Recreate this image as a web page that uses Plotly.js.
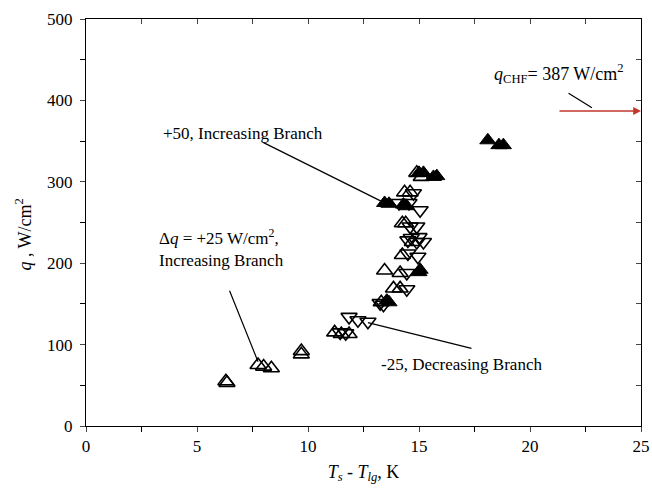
<!DOCTYPE html>
<html><head><meta charset="utf-8">
<script src="https://cdn.plot.ly/plotly-3.0.1.min.js"></script>
<style>body{margin:0;background:#fff}#c{width:652px;height:491px}</style>
</head><body><div id="c"></div>
<script>
// +25 W/cm2, increasing branch (open up-triangles)
const incX = [6.3, 6.35, 7.75, 8.0, 8.35, 9.7, 9.7, 11.2, 11.5, 11.85, 13.45, 13.3, 13.85, 14.15, 14.15, 14.25, 14.25, 14.4, 14.7, 14.35, 14.6, 14.9, 15.1];
const incQ = [55, 53, 75, 73, 71, 92, 88, 115, 113, 113, 191, 152, 169, 169, 188, 210, 249, 249, 226, 287, 287, 311, 306];
// -25 W/cm2, decreasing branch (open down-triangles)
const decX = [11.85, 12.25, 12.7, 11.45, 11.7, 13.25, 13.4, 14.45, 14.45, 14.5, 14.95, 14.5, 14.9, 15.2, 14.65, 15.0, 14.6, 14.9, 15.05, 14.1, 14.55, 14.75];
const decQ = [134, 130, 128, 115, 114, 151, 149, 168, 188, 212, 208, 228, 226, 226, 231, 232, 245, 245, 265, 274, 274, 286];
// +50 W/cm2, increasing branch (filled up-triangles)
const p50X = [13.45, 13.65, 14.3, 14.45, 15.0, 15.05, 13.55, 13.65, 15.0, 15.2, 15.65, 15.8, 18.1, 18.6, 18.8];
const p50Q = [274, 273, 272, 270, 189, 192, 154, 152, 311, 311, 306, 307, 351, 345, 345];
const qCHF = 387;

const F = "Liberation Serif, Times New Roman, serif";
const traces = [
  {x: incX, y: incQ, type: 'scatter', mode: 'markers', name: '+25',
   marker: {symbol: 'triangle-up-open', size: 14, color: '#000', line: {width: 1.6, color: '#000'}}},
  {x: decX, y: decQ, type: 'scatter', mode: 'markers', name: '-25',
   marker: {symbol: 'triangle-down-open', size: 14, color: '#000', line: {width: 1.6, color: '#000'}}},
  {x: p50X, y: p50Q, type: 'scatter', mode: 'markers', name: '+50',
   marker: {symbol: 'triangle-up', size: 14, color: '#000', line: {width: 1, color: '#000'}}},
  {x: [0], y: [0], xaxis: 'x2', yaxis: 'y2', type: 'scatter', mode: 'markers',
   marker: {opacity: 0}, hoverinfo: 'skip', showlegend: false}
];

const layout = {
  width: 652, height: 491,
  margin: {l: 86, r: 11, t: 19, b: 65},
  paper_bgcolor: '#fff', plot_bgcolor: '#fff',
  showlegend: false,
  font: {family: F, size: 17, color: '#000'},
  xaxis: {range: [0, 25], dtick: 5, tick0: 0, ticks: 'outside', ticklen: 5, tickwidth: 1,
    showline: true, linecolor: '#000', linewidth: 1, showgrid: false, zeroline: false,
    minor: {dtick: 2.5, ticks: 'outside', ticklen: 5, tickwidth: 1, tickcolor: '#000'},
    tickfont: {family: F, size: 17},
    title: {text: '<i>T</i><sub><i>s</i></sub> - <i>T</i><sub><i>lg</i></sub>, K', font: {family: F, size: 18}, standoff: 9}},
  yaxis: {range: [0, 500], dtick: 100, tick0: 0, ticks: 'outside', ticklen: 5, tickwidth: 1,
    showline: true, linecolor: '#000', linewidth: 1, showgrid: false, zeroline: false,
    minor: {dtick: 50, ticks: 'outside', ticklen: 5, tickwidth: 1, tickcolor: '#000'},
    tickfont: {family: F, size: 17}, ticklabelstandoff: 4},
  xaxis2: {overlaying: 'x', side: 'top', range: [0, 25], dtick: 2.5, tick0: 0, ticks: 'inside', ticklen: 5,
    showticklabels: false, showline: true, linecolor: '#000', linewidth: 1, showgrid: false, zeroline: false},
  yaxis2: {overlaying: 'y', side: 'right', range: [0, 500], dtick: 50, tick0: 0, ticks: 'inside', ticklen: 5,
    showticklabels: false, showline: true, linecolor: '#000', linewidth: 1, showgrid: false, zeroline: false},
  annotations: [
    {xref: 'paper', yref: 'paper', x: -0.112, y: 0.47, xanchor: 'center', yanchor: 'middle', textangle: -90,
     showarrow: false, text: '<i>q</i> , W/cm<sup>2</sup>', font: {family: F, size: 18}},
    {x: 13.38, y: 275, ax: 7.93, ay: 349, axref: 'x', ayref: 'y', xref: 'x', yref: 'y',
     showarrow: true, arrowhead: 0, arrowwidth: 1.2, arrowcolor: '#000', text: ''},
    {x: 3.4, y: 359, xref: 'x', yref: 'y', xanchor: 'left', yanchor: 'middle', showarrow: false,
     text: '+50, Increasing Branch', font: {family: F, size: 17}},
    {x: 7.75, y: 79, ax: 6.44, ay: 168, axref: 'x', ayref: 'y', xref: 'x', yref: 'y',
     showarrow: true, arrowhead: 0, arrowwidth: 1.2, arrowcolor: '#000', text: ''},
    {x: 3.2, y: 219, xref: 'x', yref: 'y', xanchor: 'left', yanchor: 'middle', showarrow: false, align: 'left',
     text: 'Δ<i>q</i> = +25 W/cm<sup>2</sup>,<br>Increasing Branch', font: {family: F, size: 17}},
    {x: 12.7, y: 127, ax: 17.43, ay: 95, axref: 'x', ayref: 'y', xref: 'x', yref: 'y',
     showarrow: true, arrowhead: 0, arrowwidth: 1.2, arrowcolor: '#000', text: ''},
    {x: 13.2, y: 75, xref: 'x', yref: 'y', xanchor: 'left', yanchor: 'middle', showarrow: false,
     text: '-25, Decreasing Branch', font: {family: F, size: 17}},
    {x: 25, y: qCHF, ax: 21.26, ay: qCHF, axref: 'x', ayref: 'y', xref: 'x', yref: 'y',
     showarrow: true, arrowhead: 2, arrowsize: 1.2, arrowwidth: 1.3, arrowcolor: '#c0392b', text: ''},
    {x: 22.79, y: 391, ax: 21.67, ay: 410, axref: 'x', ayref: 'y', xref: 'x', yref: 'y',
     showarrow: true, arrowhead: 0, arrowwidth: 1.2, arrowcolor: '#000', text: ''},
    {x: 18.3, y: 433, xref: 'x', yref: 'y', xanchor: 'left', yanchor: 'middle', showarrow: false,
     text: '<i>q</i><sub>CHF</sub>= 387 W/cm<sup>2</sup>', font: {family: F, size: 18}}
  ]
};
Plotly.newPlot('c', traces, layout, {displayModeBar: false, staticPlot: true});
</script></body></html>
